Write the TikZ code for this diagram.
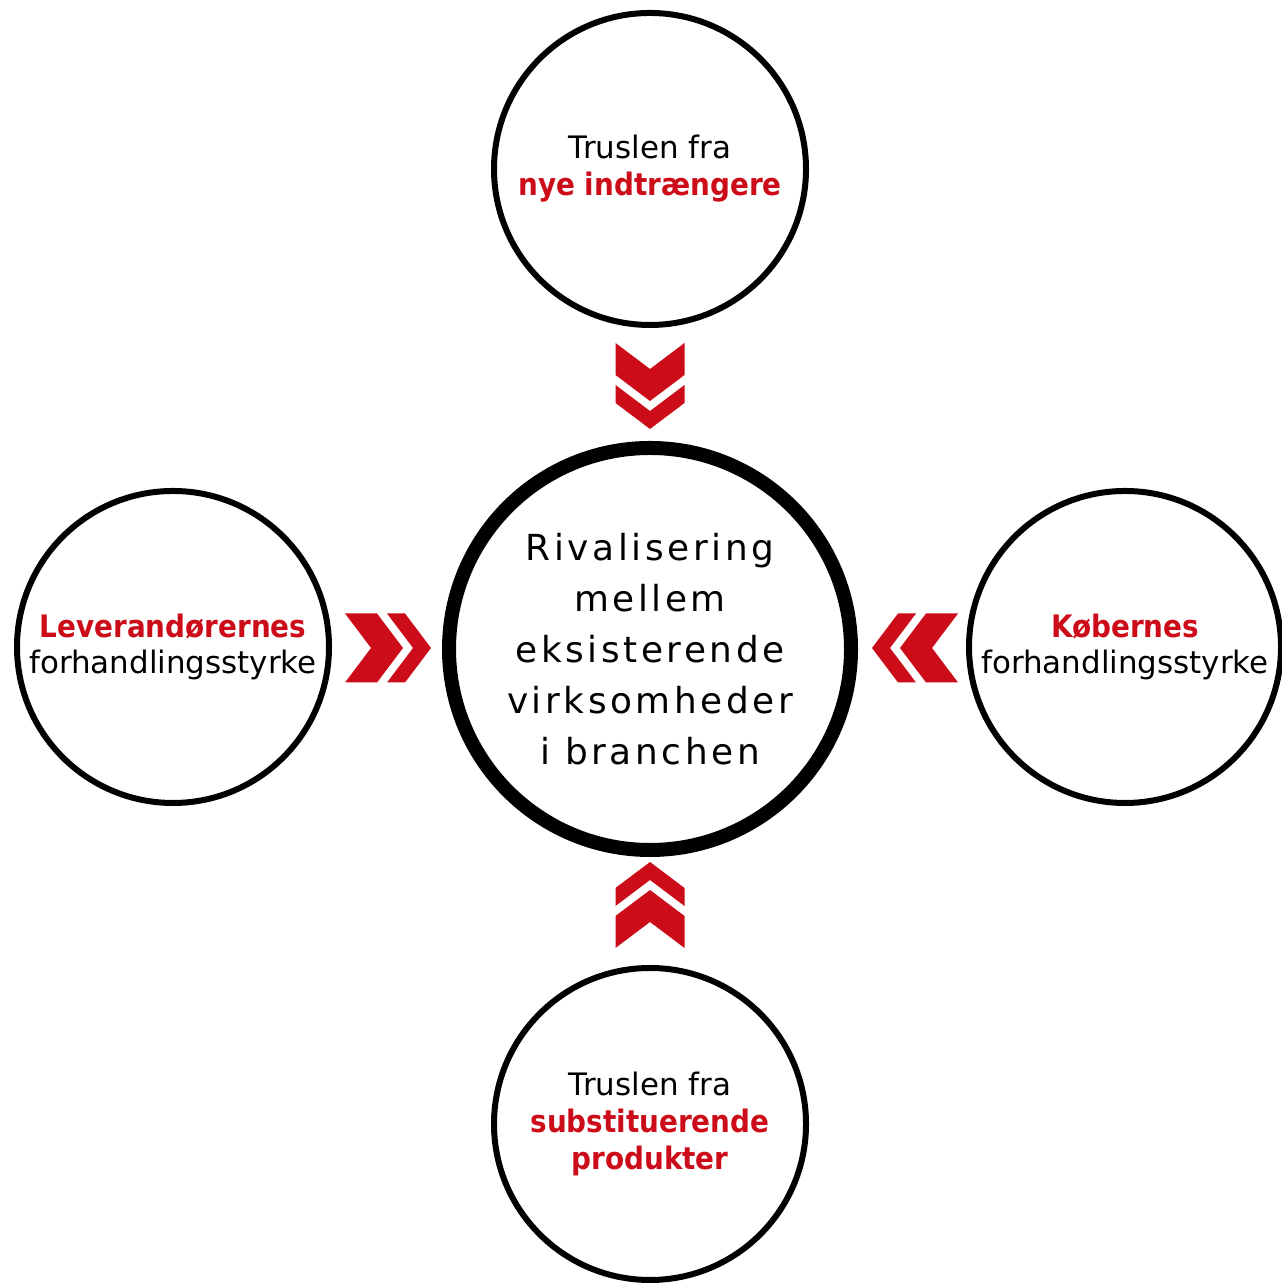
\documentclass[tikz,border=0pt]{standalone}
\usepackage{fontspec}
\setmainfont{DejaVu Sans}
\newfontfamily\redfont{DejaVu Sans}[FakeStretch=0.9]
\newfontfamily\rivalfont{DejaVu Sans}[LetterSpace=10]
\definecolor{porterred}{RGB}{204,12,24}
\newcommand{\redtext}[1]{\textcolor{porterred}{\redfont\bfseries #1}}
\newcommand{\chevrons}{%
\fill[porterred] (-0.345,0) -- (0,-0.26) -- (0.345,0) -- (0.345,-0.32) -- (0,-0.58) -- (-0.345,-0.32) -- cycle;
\fill[porterred] (-0.345,-0.42) -- (0,-0.68) -- (0.345,-0.42) -- (0.345,-0.60) -- (0,-0.86) -- (-0.345,-0.60) -- cycle;}

\begin{document}
\begin{tikzpicture}[
force/.style={circle,draw=black,line width=0.06cm,minimum size=3.12cm,inner sep=0pt,align=center,font=\fontsize{8.8}{10.5}\selectfont},
rival/.style={circle,draw=black,line width=0.14cm,minimum size=4.02cm,inner sep=0pt,align=center,font=\rivalfont\fontsize{10.2}{14.5}\selectfont}]
\useasboundingbox[fill=white] (0,0) rectangle (12.81,12.83);

\node[rival] (rivalry) at (6.50,6.34) {Rivalisering\\mellem\\eksisterende\\virksomheder\\i branchen};
\node[force] (entrants) at (6.50,11.14) {Truslen fra\\\redtext{nye indtrængere}};
\node[force] (suppliers) at (1.73,6.36) {\redtext{Leverandørernes}\\forhandlingsstyrke};
\node[force] (buyers) at (11.25,6.36) {\redtext{Købernes}\\forhandlingsstyrke};
\node[force] (substitutes) at (6.50,1.59) {Truslen fra\\\redtext{substituerende}\\\redtext{produkter}};

% chevrons pointing at the rivalry circle
\begin{scope}[shift={(6.50,9.40)}]\chevrons\end{scope}
\begin{scope}[shift={(3.45,6.35)},rotate=90]\chevrons\end{scope}
\begin{scope}[shift={(9.58,6.35)},rotate=-90]\chevrons\end{scope}
\begin{scope}[shift={(6.50,3.35)},rotate=180]\chevrons\end{scope}

\end{tikzpicture}
\end{document}
